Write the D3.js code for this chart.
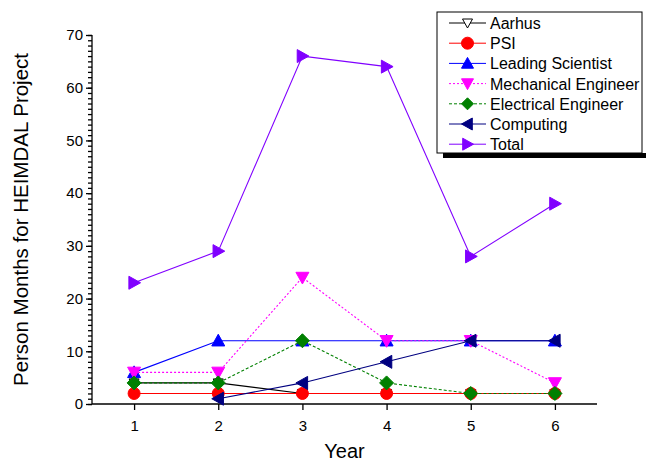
<!DOCTYPE html>
<meta charset="utf-8">
<style>
	body { margin: 0; background: #fff; }
	svg { display: block; font-family: "Liberation Sans", Arial, sans-serif; }
</style>
<body></body>
<script src="https://d3js.org/d3.v7.min.js"></script>
<script>

	// data
	var years = [1, 2, 3, 4, 5, 6];
	var aarhus = [4, 4, 2, 2, 2, 2];
	var psi = [2, 2, 2, 2, 2, 2];
	var leadingScientist = [6, 12, 12, 12, 12, 12];
	var mechanicalEngineer = [6, 6, 24, 12, 12, 4];
	var electricalEngineer = [4, 4, 12, 4, 2, 2];
	var computing = [null, 1, 4, 8, 12, 12];
	var total = [23, 29, 66, 64, 28, 38];
	var yTicks = [0, 10, 20, 30, 40, 50, 60, 70];

	var series = [
		{name: "Aarhus", values: aarhus, color: "#000000", fill: "#ffffff", symbol: "down", size: 5, dash: null},
		{name: "PSI", values: psi, color: "#ff0000", fill: "#ff0000", symbol: "circle", size: 6, dash: null},
		{name: "Leading Scientist", values: leadingScientist, color: "#0000ff", fill: "#0000ff", symbol: "up", size: 6.5, dash: null},
		{name: "Mechanical Engineer", values: mechanicalEngineer, color: "#ff00ff", fill: "#ff00ff", symbol: "down", size: 6.5, dash: "2,2"},
		{name: "Electrical Engineer", values: electricalEngineer, color: "#008000", fill: "#008000", symbol: "diamond", size: 7, dash: "3,2"},
		{name: "Computing", values: computing, color: "#000080", fill: "#000080", symbol: "left", size: 6.5, dash: null},
		{name: "Total", values: total, color: "#8000ff", fill: "#8000ff", symbol: "right", size: 6.5, dash: null}
	];

	var width = 646, height = 464;
	var plot = {left: 92, right: 597, top: 35, bottom: 404};

	var xScale = d3.scaleLinear().domain([0.5, 6.5]).range([plot.left, plot.right]);
	var yScale = d3.scaleLinear().domain([0, 70]).range([plot.bottom, plot.top]);

	var svg = d3.select("body").append("svg")
		.attr("width", width)
		.attr("height", height);

	function marker(type, s) {
		if (type == "up") return "M0," + (-s) + "L" + s + "," + (s * 0.8) + "L" + (-s) + "," + (s * 0.8) + "Z";
		if (type == "down") return "M0," + s + "L" + s + "," + (-s * 0.8) + "L" + (-s) + "," + (-s * 0.8) + "Z";
		if (type == "left") return "M" + (-s) + ",0L" + (s * 0.8) + "," + (-s) + "L" + (s * 0.8) + "," + s + "Z";
		if (type == "right") return "M" + s + ",0L" + (-s * 0.8) + "," + (-s) + "L" + (-s * 0.8) + "," + s + "Z";
		if (type == "diamond") return "M0," + (-s) + "L" + s + ",0L0," + s + "L" + (-s) + ",0Z";
		return d3.symbol().type(d3.symbolCircle).size(Math.PI * s * s)();
	}

	// axes
	var yAxis = d3.axisLeft(yScale).tickValues(yTicks).tickSize(6).tickPadding(3);
	var yMinor = d3.axisLeft(yScale).tickValues(d3.range(0, 71, 1)).tickSize(4).tickFormat("");
	var xAxis = d3.axisBottom(xScale).tickValues(years).tickSize(6).tickPadding(10).tickFormat(d3.format("d"));

	svg.append("g").attr("transform", "translate(" + plot.left + ",0)").call(yMinor);
	var gy = svg.append("g").attr("transform", "translate(" + plot.left + ",0)").call(yAxis);
	var gx = svg.append("g").attr("transform", "translate(0," + plot.bottom + ")").call(xAxis);

	svg.selectAll(".domain").remove();
	svg.selectAll(".tick line").attr("stroke", "#000").attr("stroke-width", 1.3);
	gy.selectAll("text").attr("font-size", 15).attr("fill", "#000").attr("font-family", "Liberation Sans, Arial, sans-serif");
	gx.selectAll("text").attr("font-size", 15).attr("fill", "#000").attr("font-family", "Liberation Sans, Arial, sans-serif");

	svg.append("line").attr("x1", plot.left).attr("x2", plot.left).attr("y1", plot.top).attr("y2", plot.bottom)
		.attr("stroke", "#000").attr("stroke-width", 1.3);
	svg.append("line").attr("x1", plot.left).attr("x2", plot.right).attr("y1", plot.bottom).attr("y2", plot.bottom)
		.attr("stroke", "#000").attr("stroke-width", 1.3);

	svg.append("text")
		.attr("x", (plot.left + plot.right) / 2)
		.attr("y", 458)
		.attr("text-anchor", "middle")
		.attr("font-size", 20)
		.text("Year");

	svg.append("text")
		.attr("transform", "translate(28," + ((plot.top + plot.bottom) / 2) + ") rotate(-90)")
		.attr("text-anchor", "middle")
		.attr("font-size", 20.5)
		.text("Person Months for HEIMDAL Project");

	// lines and markers
	var line = d3.line()
		.defined(function(d) { return d.v != null; })
		.x(function(d) { return xScale(d.x); })
		.y(function(d) { return yScale(d.v); });

	series.forEach(function(s) {
		var pts = years.map(function(y, i) { return {x: y, v: s.values[i]}; });
		svg.append("path")
			.attr("d", line(pts))
			.attr("fill", "none")
			.attr("stroke", s.color)
			.attr("stroke-width", 1.1)
			.attr("stroke-dasharray", s.dash);
		svg.selectAll(null)
			.data(pts.filter(function(d) { return d.v != null; }))
			.enter()
			.append("path")
			.attr("d", marker(s.symbol, s.size))
			.attr("transform", function(d) { return "translate(" + xScale(d.x) + "," + yScale(d.v) + ")"; })
			.attr("fill", s.fill)
			.attr("stroke", s.color)
			.attr("stroke-width", 1);
	});

	// legend
	var lg = {x: 437, y: 12, w: 205, h: 141};
	svg.append("rect").attr("x", lg.x + 6).attr("y", lg.y + lg.h).attr("width", width - lg.x - 6).attr("height", 5).attr("fill", "#000");
	svg.append("rect").attr("x", lg.x).attr("y", lg.y).attr("width", lg.w).attr("height", lg.h)
		.attr("fill", "#fff").attr("stroke", "#000").attr("stroke-width", 1);

	var legend = svg.selectAll(".legend")
		.data(series)
		.enter()
		.append("g")
		.attr("transform", function(d, i) { return "translate(0," + (23 + i * 20.2) + ")"; });

	legend.append("line")
		.attr("x1", 449).attr("x2", 486)
		.attr("stroke", function(d) { return d.color; })
		.attr("stroke-width", 1)
		.attr("stroke-dasharray", function(d) { return d.dash; });
	legend.append("path")
		.attr("d", function(d) { return marker(d.symbol, Math.min(d.size, 6)); })
		.attr("transform", "translate(467.5,0)")
		.attr("fill", function(d) { return d.fill; })
		.attr("stroke", function(d) { return d.color; });
	legend.append("text")
		.attr("x", 490)
		.attr("y", 6)
		.attr("font-size", 16)
		.text(function(d) { return d.name; });

</script>
